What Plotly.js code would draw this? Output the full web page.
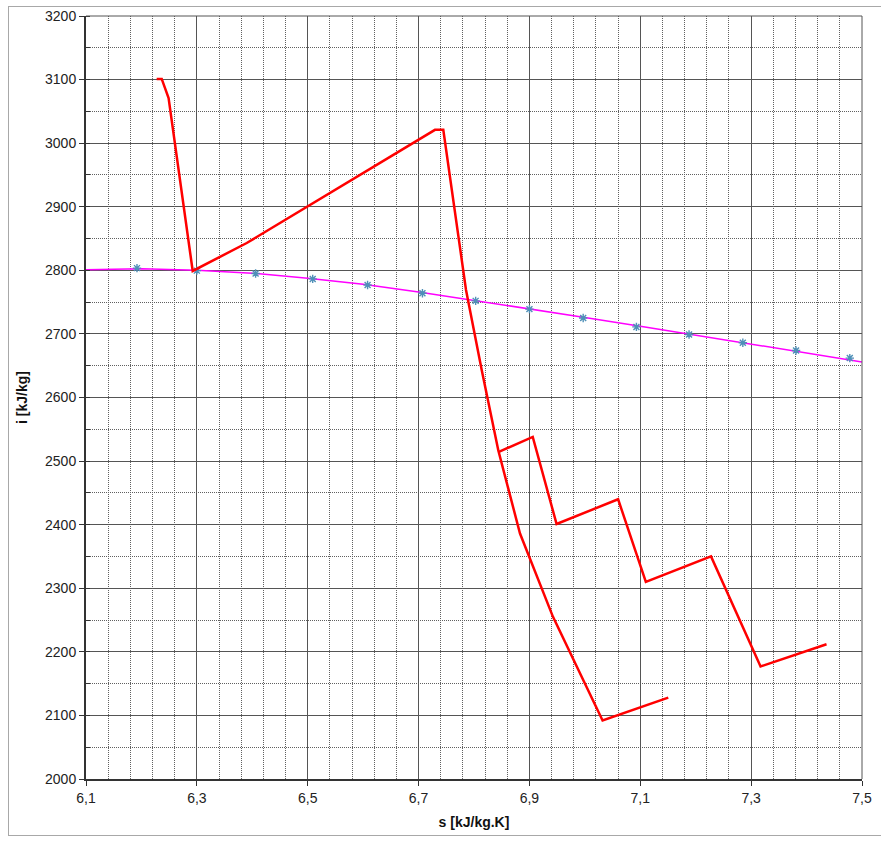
<!DOCTYPE html>
<html>
<head>
<meta charset="utf-8">
<script src="https://cdn.plot.ly/plotly-3.0.1.min.js"></script>
<style>
  html, body { margin: 0; padding: 0; background: #fff; }
  #wrap { position: relative; width: 881px; height: 841px; }
  #chart { position: absolute; left: 0; top: 0; width: 881px; height: 841px; }
  #frame { position: absolute; left: 8px; top: 6px; width: 880px; height: 830px;
           border: 1px solid #a8a8a8; pointer-events: none; box-sizing: border-box; }
</style>
</head>
<body>
<div id="wrap"><div id="chart"></div><div id="frame"></div></div>
<script>
// Saturation line (fitted curve), s [kJ/kg.K] and i [kJ/kg]
const satLineS = [6.10, 6.20, 6.30, 6.40, 6.50, 6.60, 6.70, 6.80, 6.90, 7.00, 7.10, 7.20, 7.30, 7.40, 7.50];
const satLineI = [2801, 2802.5, 2800, 2795.5, 2787.5, 2778, 2766, 2753, 2740, 2726, 2712, 2698, 2684, 2670, 2656];

// Saturation points (markers)
const satPtsS = [6.192, 6.300, 6.406, 6.509, 6.608, 6.707, 6.803, 6.900, 6.997, 7.093, 7.188, 7.285, 7.381, 7.478];
const satPtsI = [2803.5, 2799.5, 2795, 2786.5, 2777, 2764, 2752, 2739, 2725, 2711, 2699, 2686, 2674, 2662];

// Main process path
const pathS = [6.2275, 6.2366, 6.249, 6.2925, 6.390, 6.7296, 6.7446, 6.7856, 6.814, 6.8438, 6.883, 6.9425, 7.032, 7.1505];
const pathI = [3101, 3101, 3071, 2799, 2843, 3021, 3021, 2769, 2643, 2517, 2386, 2255, 2092, 2128];

// Reheat branch
const branchS = [6.8438, 6.906, 6.949, 7.060, 7.110, 7.2276, 7.317, 7.436];
const branchI = [2514, 2538, 2401, 2440, 2310, 2350, 2177, 2212];

const xTickVals = [6.1, 6.3, 6.5, 6.7, 6.9, 7.1, 7.3, 7.5];
const yTickVals = [2000, 2100, 2200, 2300, 2400, 2500, 2600, 2700, 2800, 2900, 3000, 3100, 3200];

const traces = [
  { x: satLineS, y: satLineI, type: 'scatter', mode: 'lines',
    line: { color: '#ff00ff', width: 1.5 }, hoverinfo: 'skip' },
  { x: satPtsS, y: satPtsI, type: 'scatter', mode: 'markers',
    marker: { symbol: 'asterisk-open', size: 7, color: '#4f90b8', line: { color: '#4f90b8', width: 1.4 } } },
  { x: pathS, y: pathI, type: 'scatter', mode: 'lines',
    line: { color: '#ff0000', width: 2.5 } },
  { x: branchS, y: branchI, type: 'scatter', mode: 'lines',
    line: { color: '#ff0000', width: 2.5 } }
];

const fontFam = '"Liberation Sans", Arial, sans-serif';

const layout = {
  width: 881, height: 841,
  margin: { l: 86, r: 19, t: 16, b: 62 },
  paper_bgcolor: '#ffffff', plot_bgcolor: '#ffffff',
  separators: ', ',
  showlegend: false,
  font: { family: fontFam, size: 14, color: '#222' },
  xaxis: {
    range: [6.1, 7.5], autorange: false,
    tickmode: 'array', tickvals: xTickVals, tickformat: '.1f',
    showgrid: true, gridcolor: '#555', gridwidth: 1,
    minor: { dtick: 0.04, tick0: 6.1, showgrid: true, gridcolor: '#606060', griddash: '1px,1px', gridwidth: 1 },
    showline: true, linecolor: '#333', linewidth: 2,
    ticks: 'outside', ticklen: 5, tickcolor: '#333', tickwidth: 1,
    zeroline: false,
    tickfont: { family: fontFam, size: 14, color: '#222' },
    title: { text: 's [kJ/kg.K]', font: { family: fontFam, size: 14, color: '#111', weight: 'bold' }, standoff: 12 }
  },
  yaxis: {
    range: [2000, 3200], autorange: false,
    tickmode: 'array', tickvals: yTickVals, tickformat: 'd',
    showgrid: true, gridcolor: '#555', gridwidth: 1,
    minor: { dtick: 50, tick0: 2000, showgrid: true, gridcolor: '#606060', griddash: '1px,1px', gridwidth: 1,
             ticks: 'inside', ticklen: 4, tickcolor: '#333' },
    showline: true, linecolor: '#333', linewidth: 2,
    ticks: 'outside', ticklen: 5, tickcolor: '#333', tickwidth: 1,
    zeroline: false,
    tickfont: { family: fontFam, size: 14, color: '#222' },
    title: { text: 'i [kJ/kg]', font: { family: fontFam, size: 14, color: '#111', weight: 'bold' }, standoff: 14 }
  },
  shapes: [
    { type: 'line', xref: 'paper', yref: 'paper', x0: 0, x1: 1, y0: 1, y1: 1, line: { color: '#555', width: 1 } },
    { type: 'line', xref: 'paper', yref: 'paper', x0: 1, x1: 1, y0: 0, y1: 1, line: { color: '#555', width: 1 } }
  ]
};

Plotly.newPlot('chart', traces, layout, { displayModeBar: false, staticPlot: true });
</script>
</body>
</html>
